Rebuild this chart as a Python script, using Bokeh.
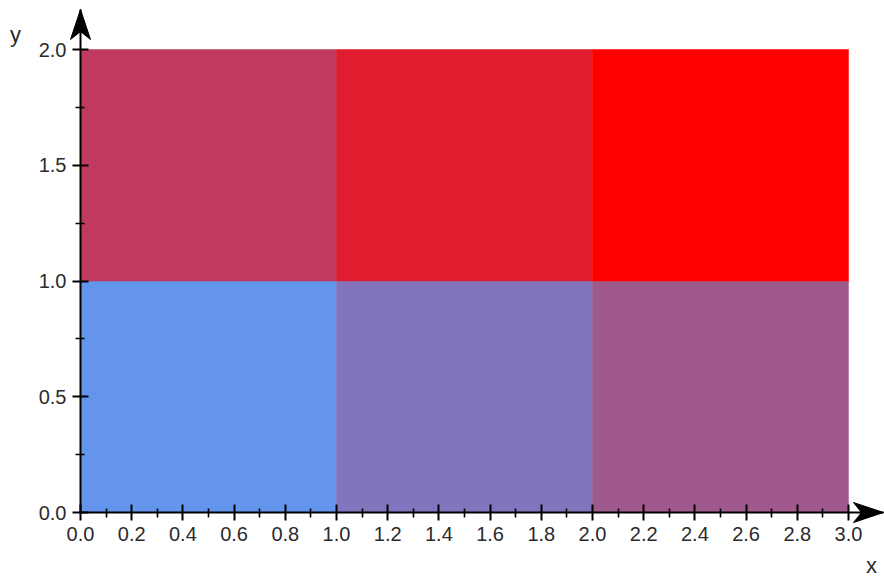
from bokeh.plotting import figure
from bokeh.models import Range1d, FixedTicker, PrintfTickFormatter, Label, ColumnDataSource
from bokeh.embed import file_html
from bokeh.resources import INLINE

# ---- data ----
cell_left = [0, 1, 2, 0, 1, 2]
cell_right = [1, 2, 3, 1, 2, 3]
cell_bottom = [0, 0, 0, 1, 1, 1]
cell_top = [1, 1, 1, 2, 2, 2]
cell_color = ["#6495ED", "#8275BD", "#A0598C", "#BF3A5E", "#DF1D2F", "#FF0000"]

x_ticks = [0.0, 0.2, 0.4, 0.6, 0.8, 1.0, 1.2, 1.4, 1.6, 1.8, 2.0, 2.2, 2.4, 2.6, 2.8, 3.0]
x_minor = [0.1, 0.3, 0.5, 0.7, 0.9, 1.1, 1.3, 1.5, 1.7, 1.9, 2.1, 2.3, 2.5, 2.7, 2.9]
y_ticks = [0.0, 0.5, 1.0, 1.5, 2.0]
y_minor = [0.25, 0.75, 1.25, 1.75]

# ---- layout (frame covers whole canvas; axes drawn at the origin) ----
W, H = 884, 579
PXX, PXY = 256.0, 231.5          # pixels per data unit
OX, OY = 80, 512                 # pixel position of the origin
X1 = (W - OX - 1) / PXX
Y0, Y1 = -(H - OY) / PXY, (OY - 9) / PXY
YTOP = OY / PXY

FONT = "Liberation Sans"
TXT = "#2b2b2b"

p = figure(frame_width=W, frame_height=H, x_range=Range1d(-OX / PXX, (W - OX) / PXX),
           y_range=Range1d(Y0, YTOP),
           output_backend="svg", toolbar_location=None, min_border=0)
p.outline_line_color = None
p.xgrid.visible = False
p.ygrid.visible = False
p.background_fill_color = "white"
p.border_fill_color = "white"

src = ColumnDataSource(dict(left=cell_left, right=cell_right, bottom=cell_bottom,
                            top=cell_top, color=cell_color))
p.quad(left="left", right="right", bottom="bottom", top="top", fill_color="color",
       line_color="color", line_width=0.5, source=src)

for ax, ticks, minor, b in ((p.xaxis[0], x_ticks, x_minor, (0, X1)),
                            (p.yaxis[0], y_ticks, y_minor, (0, Y1))):
    ax.fixed_location = 0
    ax.bounds = b
    ax.ticker = FixedTicker(ticks=ticks, minor_ticks=minor)
    ax.formatter = PrintfTickFormatter(format="%.1f")
    ax.axis_line_color = "black"
    ax.axis_line_width = 2
    ax.major_tick_line_color = "black"
    ax.major_tick_line_width = 2
    ax.minor_tick_line_color = "black"
    ax.minor_tick_line_width = 1.6
    ax.major_tick_in = 8
    ax.major_tick_out = 8
    ax.minor_tick_in = 4
    ax.minor_tick_out = 5
    ax.major_label_text_font = FONT
    ax.major_label_text_font_size = "20px"
    ax.major_label_text_color = TXT
    ax.major_label_standoff = 6

# arrow heads
L, HW, N = 30, 10, 22
p.patch([X1, X1 - L / PXX, X1 - N / PXX, X1 - L / PXX],
        [0, HW / PXY, 0, -HW / PXY], fill_color="black", line_color="black", line_width=1)
p.patch([0, HW / PXX, 0, -HW / PXX],
        [Y1, Y1 - L / PXY, Y1 - N / PXY, Y1 - L / PXY], fill_color="black", line_color="black", line_width=1)

p.add_layout(Label(x=(15 - OX) / PXX, y=(OY - 34) / PXY, text="y", text_font=FONT,
                   text_font_size="22px", text_color=TXT, text_align="center",
                   text_baseline="middle"))
p.add_layout(Label(x=(871 - OX) / PXX, y=(OY - 565) / PXY, text="x", text_font=FONT,
                   text_font_size="22px", text_color=TXT, text_align="center",
                   text_baseline="middle"))

open("out.html", "w").write(file_html(p, INLINE))
